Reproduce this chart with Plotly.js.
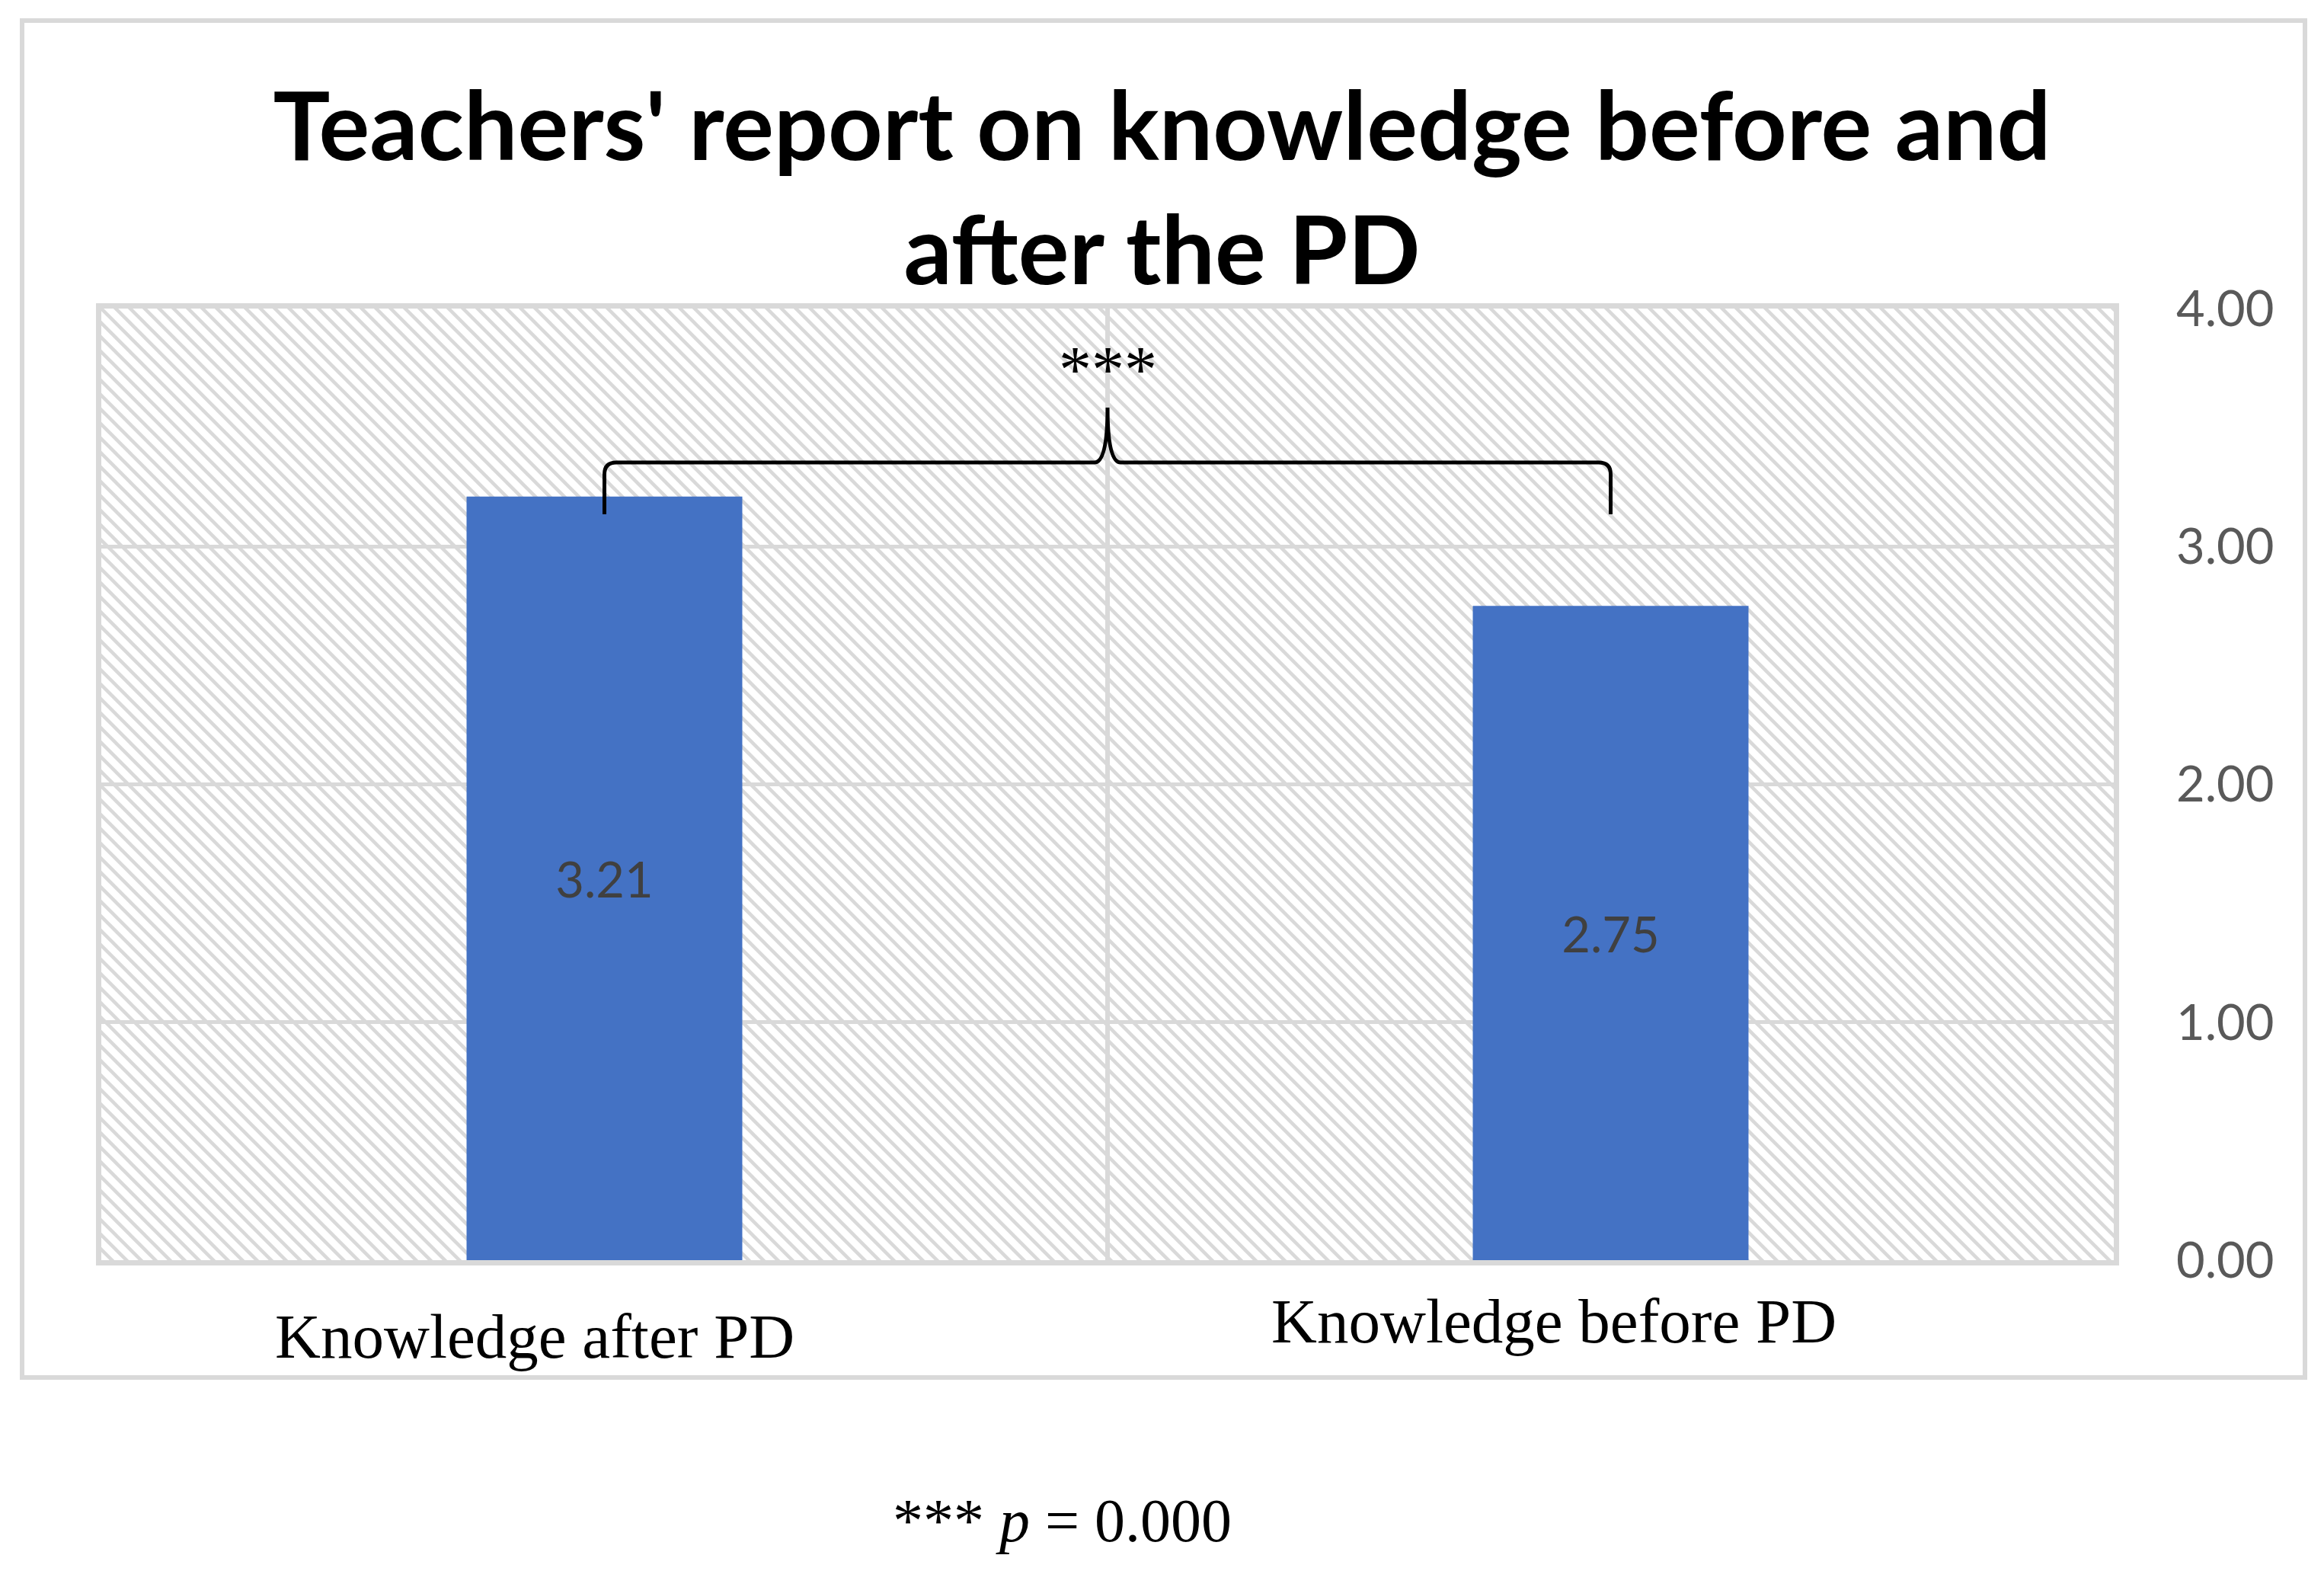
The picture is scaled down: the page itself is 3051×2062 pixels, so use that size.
<!DOCTYPE html>
<html>
<head>
<meta charset="utf-8">
<script src="https://cdn.plot.ly/plotly-3.0.1.min.js"></script>
<style>
  body { margin: 0; background: #fff; }
  #myGraph { width: 3051px; height: 2062px; }
</style>
</head>
<body>
<div id="myGraph"></div>
<script>
// chart data
const categories = ["Knowledge after PD", "Knowledge before PD"];
const meanScores = [3.21, 2.75];
const yTicks = [0, 1, 2, 3, 4];
const significance = "***";
const footnote = "*** <i>p</i> = 0.000";

// brace between the two bars (y values on the score axis)
const braceFoot = 3.135;
const braceBar = 3.353;
const braceTip = 3.584;
const starsY = 3.744;

// page geometry (pixels) for the plot area
const W = 3051, H = 2062;
const margin = { l: 133, r: 276, t: 405, b: 408 };
const plotW = W - margin.l - margin.r;
const plotH = H - margin.t - margin.b;
// convert page pixels to paper coordinates
const px = (x) => (x - margin.l) / plotW;
const py = (y) => (H - margin.b - y) / plotH;

// light downward diagonal hatch for the plot area
function hatchImage(w, h) {
  const s = 19;
  const svg =
    '<svg xmlns="http://www.w3.org/2000/svg" width="' + w + '" height="' + h + '">' +
    '<defs><pattern id="p" width="' + s + '" height="' + s + '" patternUnits="userSpaceOnUse">' +
    '<rect width="' + s + '" height="' + s + '" fill="#ffffff"/>' +
    '<path d="M-2,-2 L' + (s + 2) + ',' + (s + 2) + ' M-2,' + (s - 2) + ' L2,' + (s + 2) +
    ' M' + (s - 2) + ',-2 L' + (s + 2) + ',2" stroke="#d9d9d9" stroke-width="4.5"/>' +
    '</pattern></defs><rect width="100%" height="100%" fill="url(#p)"/></svg>';
  return "data:image/svg+xml;base64," + btoa(svg);
}

const xIdx = categories.map((c, i) => i);

const bars = {
  type: "bar",
  x: xIdx,
  y: meanScores,
  marker: { color: "#4472c4" },
  text: meanScores.map((v) => v.toFixed(2)),
  textposition: "inside",
  insidetextanchor: "middle",
  textangle: 0,
  textfont: { family: "Lato, sans-serif", size: 65, color: "#404040" },
  hoverinfo: "skip",
  showlegend: false,
};

// curly brace path from bar 1 to bar 2
const x0 = xIdx[0], x1 = xIdx[1], xm = (x0 + x1) / 2;
const bracePath =
  "M" + x0 + "," + braceFoot +
  " L" + x0 + "," + (braceBar - 0.05) +
  " Q" + x0 + "," + braceBar + " " + (x0 + 0.012) + "," + braceBar +
  " L" + (xm - 0.013) + "," + braceBar +
  " Q" + xm + "," + braceBar + " " + xm + "," + braceTip +
  " Q" + xm + "," + braceBar + " " + (xm + 0.013) + "," + braceBar +
  " L" + (x1 - 0.012) + "," + braceBar +
  " Q" + x1 + "," + braceBar + " " + x1 + "," + (braceBar - 0.05) +
  " L" + x1 + "," + braceFoot;

const serif = "'Liberation Serif', 'Times New Roman', serif";

const layout = {
  width: W,
  height: H,
  margin: margin,
  paper_bgcolor: "#ffffff",
  plot_bgcolor: "rgba(0,0,0,0)",
  bargap: 0.726,
  title: {
    text: "Teachers' report on knowledge before and<br>after the PD",
    font: { family: "Lato, sans-serif", size: 125, color: "#000000", weight: "bold" },
    xref: "container",
    x: 0.5,
    yref: "container",
    y: 0.898,
    yanchor: "top",
  },
  xaxis: {
    range: [-0.5, 1.5],
    tickvals: [0.5],
    ticktext: [""],
    ticks: "",
    showgrid: true,
    gridcolor: "#d9d9d9",
    gridwidth: 6,
    zeroline: false,
    showline: true,
    mirror: true,
    linecolor: "#d9d9d9",
    linewidth: 7,
    layer: "below traces",
    fixedrange: true,
  },
  yaxis: {
    side: "right",
    range: [yTicks[0], yTicks[yTicks.length - 1]],
    tickvals: yTicks,
    tickformat: ".2f",
    ticks: "",
    ticklabelstandoff: 62,
    tickfont: { family: "Lato, sans-serif", size: 65, color: "#595959" },
    showgrid: true,
    gridcolor: "#d9d9d9",
    gridwidth: 5,
    zeroline: false,
    showline: true,
    mirror: true,
    linecolor: "#d9d9d9",
    linewidth: 7,
    layer: "below traces",
    fixedrange: true,
  },
  images: [
    {
      source: hatchImage(plotW, plotH),
      xref: "paper",
      yref: "paper",
      x: 0,
      y: 1,
      sizex: 1,
      sizey: 1,
      sizing: "stretch",
      xanchor: "left",
      yanchor: "top",
      layer: "below",
    },
  ],
  shapes: [
    // outer chart frame
    {
      type: "rect",
      xref: "paper",
      yref: "paper",
      x0: px(29),
      x1: px(3026),
      y0: py(1808),
      y1: py(27),
      line: { color: "#d9d9d9", width: 6 },
      fillcolor: "rgba(0,0,0,0)",
    },
    {
      type: "path",
      xref: "x",
      yref: "y",
      path: bracePath,
      line: { color: "#000000", width: 5 },
    },
  ],
  annotations: [
    {
      text: categories[0],
      xref: "x",
      yref: "paper",
      x: xIdx[0],
      y: py(1754),
      xshift: -92,
      yanchor: "middle",
      showarrow: false,
      font: { family: serif, size: 83, color: "#000000" },
    },
    {
      text: categories[1],
      xref: "x",
      yref: "paper",
      x: xIdx[1],
      y: py(1734),
      xshift: -75,
      yanchor: "middle",
      showarrow: false,
      font: { family: serif, size: 83, color: "#000000" },
    },
    {
      text: significance,
      xref: "x",
      yref: "y",
      x: xm,
      y: starsY,
      yanchor: "middle",
      showarrow: false,
      font: { family: serif, size: 86, color: "#000000" },
    },
    {
      text: footnote,
      xref: "paper",
      yref: "paper",
      x: px(1394),
      y: py(1996),
      yanchor: "middle",
      showarrow: false,
      font: { family: serif, size: 80, color: "#000000" },
    },
  ],
};

Plotly.newPlot("myGraph", [bars], layout, { staticPlot: true, displayModeBar: false });
</script>
</body>
</html>
